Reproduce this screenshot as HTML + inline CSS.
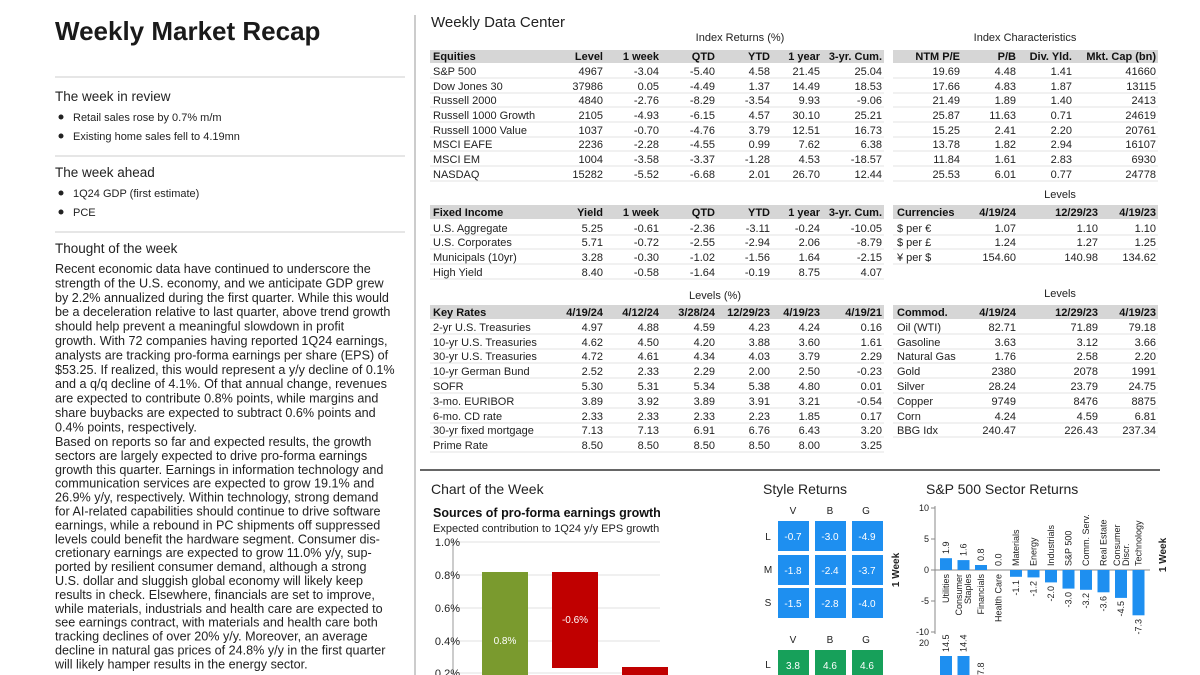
<!DOCTYPE html>
<html><head><meta charset="utf-8"><style>
html,body{margin:0;padding:0;background:#fff;}
svg{display:block;font-family:"Liberation Sans",sans-serif;}
.t{font-size:11px;fill:#222;}
.h{font-size:11px;fill:#111;font-weight:bold;}
.r{text-anchor:end;}
.p{font-size:12.6px;fill:#222;}
</style></head><body>
<svg width="1200" height="675" viewBox="0 0 1200 675" xmlns="http://www.w3.org/2000/svg">
<rect width="1200" height="675" fill="#fff"/>
<!-- left column -->
<text x="55" y="40" font-size="26" font-weight="bold" fill="#1a1a1a">Weekly Market Recap</text>
<line x1="55" y1="77" x2="405" y2="77" stroke="#ccc"/>
<text x="55" y="101" font-size="13.5" fill="#222">The week in review</text>
<circle cx="61" cy="117" r="2.5" fill="#222"/><text x="73" y="121" class="t" font-size="11.6">Retail sales rose by 0.7% m/m</text>
<circle cx="61" cy="136" r="2.5" fill="#222"/><text x="73" y="140" class="t" font-size="11.6">Existing home sales fell to 4.19mn</text>
<line x1="55" y1="156" x2="405" y2="156" stroke="#ccc"/>
<text x="55" y="177" font-size="13.5" fill="#222">The week ahead</text>
<circle cx="61" cy="193" r="2.5" fill="#222"/><text x="73" y="197" class="t" font-size="11.6">1Q24 GDP (first estimate)</text>
<circle cx="61" cy="212" r="2.5" fill="#222"/><text x="73" y="216" class="t" font-size="11.6">PCE</text>
<line x1="55" y1="232" x2="405" y2="232" stroke="#ccc"/>
<text x="55" y="253" font-size="13.5" fill="#222">Thought of the week</text>
<g class="p">
<text x="55" y="273">Recent economic data have continued to underscore the</text>
<text x="55" y="287.4">strength of the U.S. economy, and we anticipate GDP grew</text>
<text x="55" y="301.8">by 2.2% annualized during the first quarter. While this would</text>
<text x="55" y="316.2">be a deceleration relative to last quarter, above trend growth</text>
<text x="55" y="330.6">should help prevent a meaningful slowdown in profit</text>
<text x="55" y="345">growth. With 72 companies having reported 1Q24 earnings,</text>
<text x="55" y="359.4">analysts are tracking pro-forma earnings per share (EPS) of</text>
<text x="55" y="373.8">$53.25. If realized, this would represent a y/y decline of 0.1%</text>
<text x="55" y="388.2">and a q/q decline of 4.1%. Of that annual change, revenues</text>
<text x="55" y="402.6">are expected to contribute 0.8% points, while margins and</text>
<text x="55" y="417">share buybacks are expected to subtract 0.6% points and</text>
<text x="55" y="431.4">0.4% points, respectively.</text>
<text x="55" y="446">Based on reports so far and expected results, the growth</text>
<text x="55" y="459.9">sectors are largely expected to drive pro-forma earnings</text>
<text x="55" y="473.8">growth this quarter. Earnings in information technology and</text>
<text x="55" y="487.7">communication services are expected to grow 19.1% and</text>
<text x="55" y="501.6">26.9% y/y, respectively. Within technology, strong demand</text>
<text x="55" y="515.5">for AI-related capabilities should continue to drive software</text>
<text x="55" y="529.4">earnings, while a rebound in PC shipments off suppressed</text>
<text x="55" y="543.3">levels could benefit the hardware segment. Consumer dis-</text>
<text x="55" y="557.2">cretionary earnings are expected to grow 11.0% y/y, sup-</text>
<text x="55" y="571.1">ported by resilient consumer demand, although a strong</text>
<text x="55" y="585">U.S. dollar and sluggish global economy will likely keep</text>
<text x="55" y="598.9">results in check. Elsewhere, financials are set to improve,</text>
<text x="55" y="612.8">while materials, industrials and health care are expected to</text>
<text x="55" y="626.7">see earnings contract, with materials and health care both</text>
<text x="55" y="640.6">tracking declines of over 20% y/y. Moreover, an average</text>
<text x="55" y="654.5">decline in natural gas prices of 24.8% y/y in the first quarter</text>
<text x="55" y="668.4">will likely hamper results in the energy sector.</text>
</g>
<line x1="415" y1="15" x2="415" y2="675" stroke="#999"/>

<!-- Weekly Data Center -->
<text x="431" y="27" font-size="15" fill="#222">Weekly Data Center</text>
<text x="740" y="41" class="t" text-anchor="middle">Index Returns (%)</text>
<text x="1025" y="41" class="t" text-anchor="middle">Index Characteristics</text>
<rect x="430" y="50" width="454" height="13" fill="#d6d6d6"/>
<rect x="893" y="50" width="265" height="13" fill="#d6d6d6"/>
<g class="h"><text x="433" y="60">Equities</text>
<g class="r"><text x="603" y="60">Level</text><text x="659" y="60">1 week</text><text x="715" y="60">QTD</text><text x="770" y="60">YTD</text><text x="820" y="60">1 year</text><text x="882" y="60">3-yr. Cum.</text>
<text x="960" y="60">NTM P/E</text><text x="1016" y="60">P/B</text><text x="1072" y="60">Div. Yld.</text><text x="1156" y="60">Mkt. Cap (bn)</text></g></g>
<g stroke="#e3e3e3"><line x1="430" y1="78" x2="884" y2="78"/><line x1="430" y1="93" x2="884" y2="93"/><line x1="430" y1="107" x2="884" y2="107"/><line x1="430" y1="122" x2="884" y2="122"/><line x1="430" y1="137" x2="884" y2="137"/><line x1="430" y1="151" x2="884" y2="151"/><line x1="430" y1="166" x2="884" y2="166"/><line x1="430" y1="181" x2="884" y2="181"/>
<line x1="893" y1="78" x2="1158" y2="78"/><line x1="893" y1="93" x2="1158" y2="93"/><line x1="893" y1="107" x2="1158" y2="107"/><line x1="893" y1="122" x2="1158" y2="122"/><line x1="893" y1="137" x2="1158" y2="137"/><line x1="893" y1="151" x2="1158" y2="151"/><line x1="893" y1="166" x2="1158" y2="166"/><line x1="893" y1="181" x2="1158" y2="181"/></g>
<g class="t">
<text x="433" y="75">S&amp;P 500</text><text x="433" y="90">Dow Jones 30</text><text x="433" y="104">Russell 2000</text><text x="433" y="119">Russell 1000 Growth</text><text x="433" y="134">Russell 1000 Value</text><text x="433" y="148">MSCI EAFE</text><text x="433" y="163">MSCI EM</text><text x="433" y="178">NASDAQ</text>
<g class="r">
<text x="603" y="75">4967</text><text x="659" y="75">-3.04</text><text x="715" y="75">-5.40</text><text x="770" y="75">4.58</text><text x="820" y="75">21.45</text><text x="882" y="75">25.04</text><text x="960" y="75">19.69</text><text x="1016" y="75">4.48</text><text x="1072" y="75">1.41</text><text x="1156" y="75">41660</text>
<text x="603" y="90">37986</text><text x="659" y="90">0.05</text><text x="715" y="90">-4.49</text><text x="770" y="90">1.37</text><text x="820" y="90">14.49</text><text x="882" y="90">18.53</text><text x="960" y="90">17.66</text><text x="1016" y="90">4.83</text><text x="1072" y="90">1.87</text><text x="1156" y="90">13115</text>
<text x="603" y="104">4840</text><text x="659" y="104">-2.76</text><text x="715" y="104">-8.29</text><text x="770" y="104">-3.54</text><text x="820" y="104">9.93</text><text x="882" y="104">-9.06</text><text x="960" y="104">21.49</text><text x="1016" y="104">1.89</text><text x="1072" y="104">1.40</text><text x="1156" y="104">2413</text>
<text x="603" y="119">2105</text><text x="659" y="119">-4.93</text><text x="715" y="119">-6.15</text><text x="770" y="119">4.57</text><text x="820" y="119">30.10</text><text x="882" y="119">25.21</text><text x="960" y="119">25.87</text><text x="1016" y="119">11.63</text><text x="1072" y="119">0.71</text><text x="1156" y="119">24619</text>
<text x="603" y="134">1037</text><text x="659" y="134">-0.70</text><text x="715" y="134">-4.76</text><text x="770" y="134">3.79</text><text x="820" y="134">12.51</text><text x="882" y="134">16.73</text><text x="960" y="134">15.25</text><text x="1016" y="134">2.41</text><text x="1072" y="134">2.20</text><text x="1156" y="134">20761</text>
<text x="603" y="148">2236</text><text x="659" y="148">-2.28</text><text x="715" y="148">-4.55</text><text x="770" y="148">0.99</text><text x="820" y="148">7.62</text><text x="882" y="148">6.38</text><text x="960" y="148">13.78</text><text x="1016" y="148">1.82</text><text x="1072" y="148">2.94</text><text x="1156" y="148">16107</text>
<text x="603" y="163">1004</text><text x="659" y="163">-3.58</text><text x="715" y="163">-3.37</text><text x="770" y="163">-1.28</text><text x="820" y="163">4.53</text><text x="882" y="163">-18.57</text><text x="960" y="163">11.84</text><text x="1016" y="163">1.61</text><text x="1072" y="163">2.83</text><text x="1156" y="163">6930</text>
<text x="603" y="178">15282</text><text x="659" y="178">-5.52</text><text x="715" y="178">-6.68</text><text x="770" y="178">2.01</text><text x="820" y="178">26.70</text><text x="882" y="178">12.44</text><text x="960" y="178">25.53</text><text x="1016" y="178">6.01</text><text x="1072" y="178">0.77</text><text x="1156" y="178">24778</text>
</g></g>

<!-- Fixed income / currencies -->
<text x="1060" y="198" class="t" text-anchor="middle">Levels</text>
<rect x="430" y="205" width="454" height="14" fill="#d6d6d6"/>
<rect x="893" y="205" width="265" height="14" fill="#d6d6d6"/>
<g class="h"><text x="433" y="216">Fixed Income</text><text x="897" y="216">Currencies</text>
<g class="r"><text x="603" y="216">Yield</text><text x="659" y="216">1 week</text><text x="715" y="216">QTD</text><text x="770" y="216">YTD</text><text x="820" y="216">1 year</text><text x="882" y="216">3-yr. Cum.</text>
<text x="1016" y="216">4/19/24</text><text x="1098" y="216">12/29/23</text><text x="1156" y="216">4/19/23</text></g></g>
<g stroke="#e3e3e3"><line x1="430" y1="235" x2="884" y2="235"/><line x1="430" y1="249" x2="884" y2="249"/><line x1="430" y1="264" x2="884" y2="264"/><line x1="430" y1="279" x2="884" y2="279"/>
<line x1="893" y1="235" x2="1158" y2="235"/><line x1="893" y1="249" x2="1158" y2="249"/><line x1="893" y1="264" x2="1158" y2="264"/></g>
<g class="t">
<text x="433" y="232">U.S. Aggregate</text><text x="433" y="246">U.S. Corporates</text><text x="433" y="261">Municipals (10yr)</text><text x="433" y="276">High Yield</text>
<text x="897" y="232">$ per €</text><text x="897" y="246">$ per £</text><text x="897" y="261">¥ per $</text>
<g class="r">
<text x="603" y="232">5.25</text><text x="659" y="232">-0.61</text><text x="715" y="232">-2.36</text><text x="770" y="232">-3.11</text><text x="820" y="232">-0.24</text><text x="882" y="232">-10.05</text>
<text x="603" y="246">5.71</text><text x="659" y="246">-0.72</text><text x="715" y="246">-2.55</text><text x="770" y="246">-2.94</text><text x="820" y="246">2.06</text><text x="882" y="246">-8.79</text>
<text x="603" y="261">3.28</text><text x="659" y="261">-0.30</text><text x="715" y="261">-1.02</text><text x="770" y="261">-1.56</text><text x="820" y="261">1.64</text><text x="882" y="261">-2.15</text>
<text x="603" y="276">8.40</text><text x="659" y="276">-0.58</text><text x="715" y="276">-1.64</text><text x="770" y="276">-0.19</text><text x="820" y="276">8.75</text><text x="882" y="276">4.07</text>
<text x="1016" y="232">1.07</text><text x="1098" y="232">1.10</text><text x="1156" y="232">1.10</text>
<text x="1016" y="246">1.24</text><text x="1098" y="246">1.27</text><text x="1156" y="246">1.25</text>
<text x="1016" y="261">154.60</text><text x="1098" y="261">140.98</text><text x="1156" y="261">134.62</text>
</g></g>

<!-- Key rates / commodities -->
<text x="715" y="299" class="t" text-anchor="middle">Levels (%)</text>
<text x="1060" y="297" class="t" text-anchor="middle">Levels</text>
<rect x="430" y="305" width="454" height="14" fill="#d6d6d6"/>
<rect x="893" y="305" width="265" height="14" fill="#d6d6d6"/>
<g class="h"><text x="433" y="316">Key Rates</text><text x="897" y="316">Commod.</text>
<g class="r"><text x="603" y="316">4/19/24</text><text x="659" y="316">4/12/24</text><text x="715" y="316">3/28/24</text><text x="770" y="316">12/29/23</text><text x="820" y="316">4/19/23</text><text x="882" y="316">4/19/21</text>
<text x="1016" y="316">4/19/24</text><text x="1098" y="316">12/29/23</text><text x="1156" y="316">4/19/23</text></g></g>
<g stroke="#e3e3e3"><line x1="430" y1="334" x2="884" y2="334"/><line x1="430" y1="349" x2="884" y2="349"/><line x1="430" y1="363" x2="884" y2="363"/><line x1="430" y1="378" x2="884" y2="378"/><line x1="430" y1="393" x2="884" y2="393"/><line x1="430" y1="408" x2="884" y2="408"/><line x1="430" y1="423" x2="884" y2="423"/><line x1="430" y1="437" x2="884" y2="437"/><line x1="430" y1="452" x2="884" y2="452"/>
<line x1="893" y1="334" x2="1158" y2="334"/><line x1="893" y1="349" x2="1158" y2="349"/><line x1="893" y1="363" x2="1158" y2="363"/><line x1="893" y1="378" x2="1158" y2="378"/><line x1="893" y1="393" x2="1158" y2="393"/><line x1="893" y1="408" x2="1158" y2="408"/><line x1="893" y1="423" x2="1158" y2="423"/><line x1="893" y1="437" x2="1158" y2="437"/></g>
<g class="t">
<text x="433" y="331">2-yr U.S. Treasuries</text><text x="433" y="346">10-yr U.S. Treasuries</text><text x="433" y="360">30-yr U.S. Treasuries</text><text x="433" y="375">10-yr German Bund</text><text x="433" y="390">SOFR</text><text x="433" y="405">3-mo. EURIBOR</text><text x="433" y="420">6-mo. CD rate</text><text x="433" y="434">30-yr fixed mortgage</text><text x="433" y="449">Prime Rate</text>
<text x="897" y="331">Oil (WTI)</text><text x="897" y="346">Gasoline</text><text x="897" y="360">Natural Gas</text><text x="897" y="375">Gold</text><text x="897" y="390">Silver</text><text x="897" y="405">Copper</text><text x="897" y="420">Corn</text><text x="897" y="434">BBG Idx</text>
<g class="r">
<text x="603" y="331">4.97</text><text x="659" y="331">4.88</text><text x="715" y="331">4.59</text><text x="770" y="331">4.23</text><text x="820" y="331">4.24</text><text x="882" y="331">0.16</text>
<text x="603" y="346">4.62</text><text x="659" y="346">4.50</text><text x="715" y="346">4.20</text><text x="770" y="346">3.88</text><text x="820" y="346">3.60</text><text x="882" y="346">1.61</text>
<text x="603" y="360">4.72</text><text x="659" y="360">4.61</text><text x="715" y="360">4.34</text><text x="770" y="360">4.03</text><text x="820" y="360">3.79</text><text x="882" y="360">2.29</text>
<text x="603" y="375">2.52</text><text x="659" y="375">2.33</text><text x="715" y="375">2.29</text><text x="770" y="375">2.00</text><text x="820" y="375">2.50</text><text x="882" y="375">-0.23</text>
<text x="603" y="390">5.30</text><text x="659" y="390">5.31</text><text x="715" y="390">5.34</text><text x="770" y="390">5.38</text><text x="820" y="390">4.80</text><text x="882" y="390">0.01</text>
<text x="603" y="405">3.89</text><text x="659" y="405">3.92</text><text x="715" y="405">3.89</text><text x="770" y="405">3.91</text><text x="820" y="405">3.21</text><text x="882" y="405">-0.54</text>
<text x="603" y="420">2.33</text><text x="659" y="420">2.33</text><text x="715" y="420">2.33</text><text x="770" y="420">2.23</text><text x="820" y="420">1.85</text><text x="882" y="420">0.17</text>
<text x="603" y="434">7.13</text><text x="659" y="434">7.13</text><text x="715" y="434">6.91</text><text x="770" y="434">6.76</text><text x="820" y="434">6.43</text><text x="882" y="434">3.20</text>
<text x="603" y="449">8.50</text><text x="659" y="449">8.50</text><text x="715" y="449">8.50</text><text x="770" y="449">8.50</text><text x="820" y="449">8.00</text><text x="882" y="449">3.25</text>
<text x="1016" y="331">82.71</text><text x="1098" y="331">71.89</text><text x="1156" y="331">79.18</text>
<text x="1016" y="346">3.63</text><text x="1098" y="346">3.12</text><text x="1156" y="346">3.66</text>
<text x="1016" y="360">1.76</text><text x="1098" y="360">2.58</text><text x="1156" y="360">2.20</text>
<text x="1016" y="375">2380</text><text x="1098" y="375">2078</text><text x="1156" y="375">1991</text>
<text x="1016" y="390">28.24</text><text x="1098" y="390">23.79</text><text x="1156" y="390">24.75</text>
<text x="1016" y="405">9749</text><text x="1098" y="405">8476</text><text x="1156" y="405">8875</text>
<text x="1016" y="420">4.24</text><text x="1098" y="420">4.59</text><text x="1156" y="420">6.81</text>
<text x="1016" y="434">240.47</text><text x="1098" y="434">226.43</text><text x="1156" y="434">237.34</text>
</g></g>

<line x1="420" y1="470" x2="1160" y2="470" stroke="#666" stroke-width="2"/>

<!-- Chart of the week -->
<text x="431" y="494" font-size="14" fill="#222">Chart of the Week</text>
<text x="433" y="517" font-size="12.5" font-weight="bold" fill="#111">Sources of pro-forma earnings growth</text>
<text x="433" y="532" font-size="11" fill="#222">Expected contribution to 1Q24 y/y EPS growth</text>
<g stroke="#e2e2e2"><line x1="455" y1="542" x2="660" y2="542"/><line x1="455" y1="575" x2="660" y2="575"/><line x1="455" y1="608" x2="660" y2="608"/><line x1="455" y1="641" x2="660" y2="641"/><line x1="455" y1="673" x2="660" y2="673"/></g>
<line x1="453" y1="540" x2="453" y2="675" stroke="#999"/>
<g class="t r" font-size="10"><text x="460" y="546" text-anchor="end">1.0%</text><text x="460" y="579" text-anchor="end">0.8%</text><text x="460" y="612" text-anchor="end">0.6%</text><text x="460" y="645" text-anchor="end">0.4%</text><text x="460" y="677" text-anchor="end">0.2%</text></g>
<rect x="482" y="572" width="46" height="110" fill="#7a9a2e"/>
<rect x="552" y="572" width="46" height="96" fill="#c00000"/>
<rect x="622" y="667" width="46" height="15" fill="#c00000"/>
<text x="505" y="644" font-size="10" fill="#fff" text-anchor="middle">0.8%</text>
<text x="575" y="623" font-size="10" fill="#fff" text-anchor="middle">-0.6%</text>

<!-- Style returns -->
<text x="763" y="494" font-size="14" fill="#222">Style Returns</text>
<g font-size="10" fill="#222" text-anchor="middle"><text x="793" y="514">V</text><text x="830" y="514">B</text><text x="866" y="514">G</text>
<text x="768" y="540">L</text><text x="768" y="573">M</text><text x="768" y="606">S</text>
<text x="793" y="643">V</text><text x="830" y="643">B</text><text x="866" y="643">G</text><text x="768" y="668">L</text></g>
<g fill="#1e8ff0">
<rect x="778" y="521" width="31" height="30"/><rect x="815" y="521" width="31" height="30"/><rect x="852" y="521" width="31" height="30"/>
<rect x="778" y="555" width="31" height="30"/><rect x="815" y="555" width="31" height="30"/><rect x="852" y="555" width="31" height="30"/>
<rect x="778" y="588" width="31" height="30"/><rect x="815" y="588" width="31" height="30"/><rect x="852" y="588" width="31" height="30"/></g>
<g fill="#17a05a"><rect x="778" y="650" width="31" height="30"/><rect x="815" y="650" width="31" height="30"/><rect x="852" y="650" width="31" height="30"/></g>
<g font-size="10" fill="#fff" text-anchor="middle">
<text x="793" y="540">-0.7</text><text x="830" y="540">-3.0</text><text x="867" y="540">-4.9</text>
<text x="793" y="574">-1.8</text><text x="830" y="574">-2.4</text><text x="867" y="574">-3.7</text>
<text x="793" y="607">-1.5</text><text x="830" y="607">-2.8</text><text x="867" y="607">-4.0</text>
<text x="793" y="669">3.8</text><text x="830" y="669">4.6</text><text x="867" y="669">4.6</text></g>
<text transform="translate(899,570) rotate(-90)" font-size="10" font-weight="bold" fill="#222" text-anchor="middle">1 Week</text>

<!-- Sector returns -->
<text x="926" y="494" font-size="14" fill="#222">S&amp;P 500 Sector Returns</text>
<line x1="935" y1="506" x2="935" y2="634" stroke="#888"/>
<g stroke="#888"><line x1="931" y1="508" x2="935" y2="508"/><line x1="931" y1="539" x2="935" y2="539"/><line x1="931" y1="570" x2="935" y2="570"/><line x1="931" y1="601" x2="935" y2="601"/><line x1="931" y1="632" x2="935" y2="632"/></g>
<g font-size="9" fill="#222" text-anchor="end"><text x="929" y="511">10</text><text x="929" y="542">5</text><text x="929" y="573">0</text><text x="929" y="604">-5</text><text x="929" y="635">-10</text><text x="929" y="646">20</text></g>
<line x1="935" y1="570" x2="1150" y2="570" stroke="#888"/>
<g fill="#1e8ff0">
<rect x="940" y="558.2" width="12" height="11.8"/>
<rect x="957.5" y="560.1" width="12" height="9.9"/>
<rect x="975" y="565" width="12" height="5"/>
<rect x="1010" y="570" width="12" height="6.8"/>
<rect x="1027.5" y="570" width="12" height="7.4"/>
<rect x="1045" y="570" width="12" height="12.4"/>
<rect x="1062.5" y="570" width="12" height="18.6"/>
<rect x="1080" y="570" width="12" height="19.8"/>
<rect x="1097.5" y="570" width="12" height="22.3"/>
<rect x="1115" y="570" width="12" height="27.9"/>
<rect x="1132.5" y="570" width="12" height="45.3"/>
<rect x="940" y="656" width="12" height="20"/><rect x="957.5" y="656" width="12" height="20"/>
</g>
<g font-size="9" fill="#222">
<text transform="translate(949,554) rotate(-90)">1.9</text>
<text transform="translate(966.5,556) rotate(-90)">1.6</text>
<text transform="translate(984,561) rotate(-90)">0.8</text>
<text transform="translate(1001.5,566) rotate(-90)">0.0</text>
<text transform="translate(949,574) rotate(-90)" text-anchor="end">Utilities</text>
<text transform="translate(962,574) rotate(-90)" text-anchor="end">Consumer</text>
<text transform="translate(971,574) rotate(-90)" text-anchor="end">Staples</text>
<text transform="translate(984,574) rotate(-90)" text-anchor="end">Financials</text>
<text transform="translate(1001.5,574) rotate(-90)" text-anchor="end">Health Care</text>
<text transform="translate(1019,566) rotate(-90)">Materials</text>
<text transform="translate(1036.5,566) rotate(-90)">Energy</text>
<text transform="translate(1054,566) rotate(-90)">Industrials</text>
<text transform="translate(1071.5,566) rotate(-90)">S&amp;P 500</text>
<text transform="translate(1089,566) rotate(-90)">Comm. Serv.</text>
<text transform="translate(1106.5,566) rotate(-90)">Real Estate</text>
<text transform="translate(1120,566) rotate(-90)">Consumer</text>
<text transform="translate(1129,566) rotate(-90)">Discr.</text>
<text transform="translate(1141.5,566) rotate(-90)">Technology</text>
<text transform="translate(1019,580) rotate(-90)" text-anchor="end">-1.1</text>
<text transform="translate(1036.5,581) rotate(-90)" text-anchor="end">-1.2</text>
<text transform="translate(1054,586) rotate(-90)" text-anchor="end">-2.0</text>
<text transform="translate(1071.5,592) rotate(-90)" text-anchor="end">-3.0</text>
<text transform="translate(1089,593) rotate(-90)" text-anchor="end">-3.2</text>
<text transform="translate(1106.5,596) rotate(-90)" text-anchor="end">-3.6</text>
<text transform="translate(1124,601) rotate(-90)" text-anchor="end">-4.5</text>
<text transform="translate(1141.5,619) rotate(-90)" text-anchor="end">-7.3</text>
<text transform="translate(949,652) rotate(-90)">14.5</text>
<text transform="translate(966.5,652) rotate(-90)">14.4</text>
<text transform="translate(984,675) rotate(-90)">7.8</text>
</g>
<text transform="translate(1166,555) rotate(-90)" font-size="10" font-weight="bold" fill="#222" text-anchor="middle">1 Week</text>
</svg>
</body></html>
